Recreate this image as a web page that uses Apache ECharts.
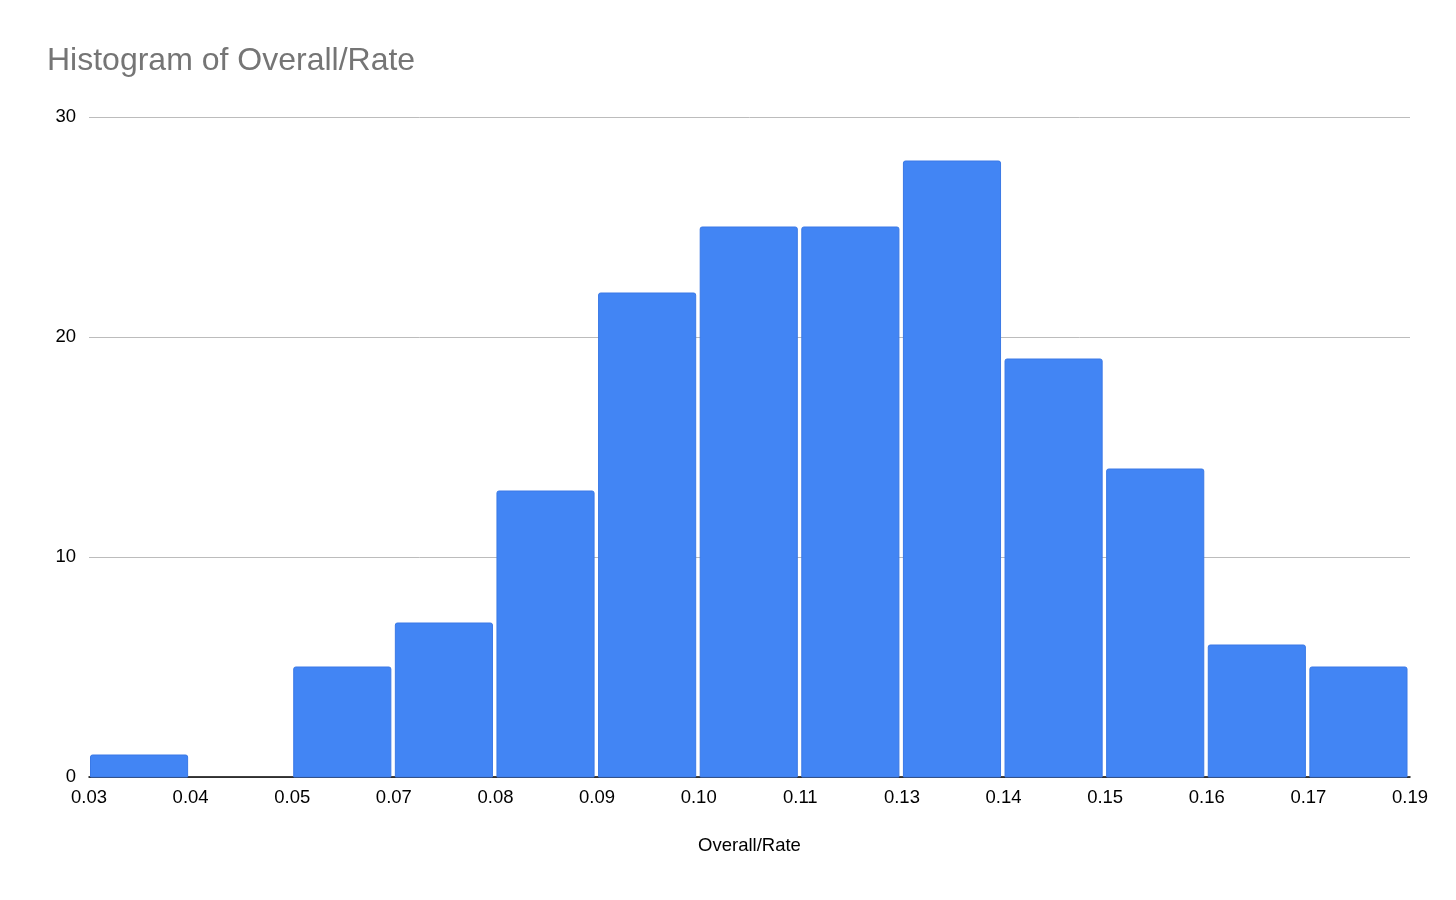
<!DOCTYPE html>
<html>
<head>
<meta charset="utf-8">
<script src="https://cdn.jsdelivr.net/npm/echarts@6/dist/echarts.min.js"></script>
<style>html,body{margin:0;padding:0;background:#fff;}#c{width:1456px;height:900px;}</style>
</head>
<body>
<div id="c"></div>
<script>
var binEdgeLabels = ['0.03','0.04','0.05','0.07','0.08','0.09','0.10','0.11','0.13','0.14','0.15','0.16','0.17','0.19'];
var counts = [1, 0, 5, 7, 13, 22, 25, 25, 28, 19, 14, 6, 5];
var yTicks = [0, 10, 20, 30];

var chart = echarts.init(document.getElementById('c'), null, {renderer: 'canvas'});
var FONT = 'Arial, "Liberation Sans", sans-serif';
var data = counts.map(function (v, i) { return [i, i + 1, v]; });

chart.setOption({
  animation: false,
  backgroundColor: '#ffffff',
  title: {
    text: 'Histogram of Overall/Rate',
    left: 42, top: 40,
    textStyle: {fontFamily: FONT, fontSize: 32, fontWeight: 'normal', color: '#757575'}
  },
  grid: {left: 89, right: 46, top: 117, bottom: 123, containLabel: false},
  xAxis: {
    type: 'value', min: 0, max: binEdgeLabels.length - 1, interval: 1,
    name: 'Overall/Rate', nameLocation: 'middle', nameGap: 59,
    nameTextStyle: {fontFamily: FONT, fontSize: 18.5, color: '#000'},
    axisLine: {show: true, lineStyle: {color: '#000', width: 1.5}},
    axisTick: {show: false},
    splitLine: {show: false},
    axisLabel: {
      fontFamily: FONT, fontSize: 18.5, color: '#000', margin: 11,
      formatter: function (v) { return binEdgeLabels[Math.round(v)]; }
    }
  },
  yAxis: {
    type: 'value', min: yTicks[0], max: yTicks[yTicks.length - 1], interval: 10,
    axisLine: {show: false},
    axisTick: {show: false},
    splitLine: {show: true, lineStyle: {color: '#bcbcbc', width: 1}},
    axisLabel: {fontFamily: FONT, fontSize: 18.5, color: '#000', margin: 13}
  },
  series: [{
    type: 'custom',
    data: data,
    encode: {x: [0, 1], y: 2},
    renderItem: function (params, api) {
      var v = api.value(2);
      if (!v) return null;
      var p0 = api.coord([api.value(0), v]);
      var p1 = api.coord([api.value(1), 0]);
      var x = p0[0] + 1.5, w = (p1[0] - p0[0]) - 4.5;
      var y = p0[1], h = p1[1] - p0[1];
      return {
        type: 'rect',
        shape: {x: x, y: y, width: w, height: h, r: [2, 2, 0, 0]},
        style: {fill: '#4285f4', stroke: '#3a79e6', lineWidth: 1}
      };
    }
  }]
});
</script>
</body>
</html>
